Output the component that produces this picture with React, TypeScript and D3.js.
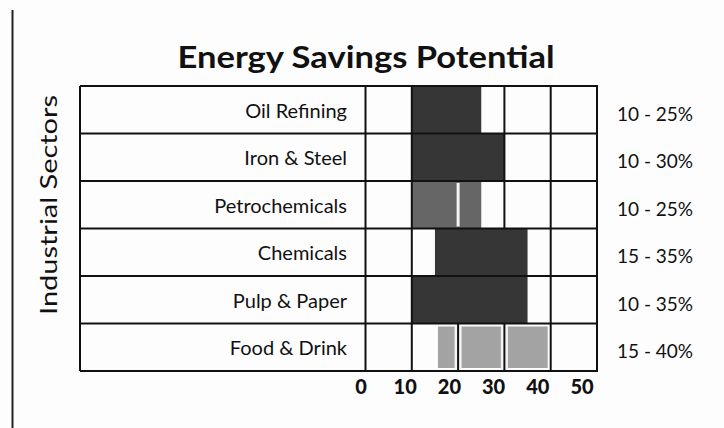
import React from "react";
import * as d3 from "d3";

const sectors = ["Oil Refining", "Iron & Steel", "Petrochemicals", "Chemicals", "Pulp & Paper", "Food & Drink"];
const lowValues = [10, 10, 10, 15, 10, 15];
const highValues = [25, 30, 25, 35, 35, 40];
const shades = ["dark", "dark", "medium", "dark", "dark", "light"];
const ticks = [0, 10, 20, 30, 40, 50];
const title = "Energy Savings Potential";
const axisTitle = "Industrial Sectors";

const W = 724;
const H = 428;
const boxLeft = 80;
const top = 86;
const bottom = 371;

const x = d3.scaleLinear().domain([0, 50]).range([365.5, 597]);
const tickX = d3.scaleLinear().domain([0, 50]).range([361, 582]);
const y = d3.scaleBand<string>().domain(sectors).range([top, bottom]).padding(0);

const fills: Record<string, string> = { dark: "#363636", medium: "#666666", light: "#a3a3a3" };

export default function App() {
  const font = "Lato, 'Open Sans', sans-serif";
  const bw = y.bandwidth();
  return (
    <svg width={W} height={H} style={{ position: "absolute", left: 0, top: 0, background: "#fff" }}>
      <rect x={0} y={0} width={W} height={H} fill="#fdfdfd" />
      {/* page border */}
      <line x1={12.5} x2={12.5} y1={10} y2={H} stroke="#222" strokeWidth={2} />
      {/* title */}
      <text x={366} y={68} textAnchor="middle" fontFamily={font} fontWeight={700} fontSize={30}
        textLength={377} lengthAdjust="spacingAndGlyphs" fill="#111">{title}</text>
      {/* axis title */}
      <text transform={`translate(57,205) rotate(-90)`} textAnchor="middle" fontFamily={font} fontSize={23}
        textLength={220} lengthAdjust="spacingAndGlyphs" fill="#111">{axisTitle}</text>
      {/* bars */}
      {sectors.map((s, i) => {
        const y0 = y(s)!;
        const x0 = x(lowValues[i]);
        const x1 = x(highValues[i]);
        const inset = shades[i] === "light" ? 3 : 0;
        const seps = ticks.filter((t) => t > lowValues[i] && t < highValues[i]);
        return (
          <g key={s}>
            <rect x={x0 + inset} y={y0 + inset} width={x1 - x0 - 2 * inset} height={bw - 2 * inset} fill={fills[shades[i]]} />
            {shades[i] !== "dark" && seps.map((t) => (
              <line key={t} x1={x(t)} x2={x(t)} y1={y0 + 2} y2={y0 + bw - 2} stroke="#f4f4f4" strokeWidth={shades[i] === "light" ? 7 : 3} />
            ))}
            {shades[i] === "light" && seps.map((t) => (
              <line key={"k" + t} x1={x(t)} x2={x(t)} y1={y0} y2={y0 + bw} stroke="#111" strokeWidth={2} />
            ))}
          </g>
        );
      })}
      {/* vertical grid lines (hidden inside bars) */}
      {sectors.map((s, i) =>
        ticks.map((t) => {
          const inside = t > lowValues[i] && t < highValues[i];
          if (inside || t === 0 || t === 50) return null;
          return <line key={s + t} x1={x(t)} x2={x(t)} y1={y(s)!} y2={y(s)! + bw} stroke="#111" strokeWidth={2} />;
        })
      )}
      {/* row lines */}
      {[...sectors.map((s) => y(s)!), bottom].map((yy, i) => (
        <line key={i} x1={boxLeft} x2={x(50) + 1} y1={yy} y2={yy} stroke="#111" strokeWidth={2.2} />
      ))}
      {/* outer verticals */}
      <line x1={boxLeft} x2={boxLeft} y1={top} y2={bottom} stroke="#111" strokeWidth={2} />
      <line x1={x(0)} x2={x(0)} y1={top} y2={bottom} stroke="#111" strokeWidth={2} />
      <line x1={x(50)} x2={x(50)} y1={top} y2={bottom} stroke="#111" strokeWidth={2} />
      {/* row labels */}
      {sectors.map((s) => (
        <text key={s} x={347} y={y(s)! + bw / 2 + 8} textAnchor="end" fontFamily={font} fontSize={20} fill="#111">{s}</text>
      ))}
      {/* value labels */}
      {sectors.map((s, i) => (
        <text key={s} x={617} y={y(s)! + bw / 2 + 11} fontFamily={font} fontSize={19} fill="#111">
          {`${lowValues[i]} - ${highValues[i]}%`}
        </text>
      ))}
      {/* tick labels */}
      {ticks.map((t) => (
        <text key={t} x={tickX(t)} y={394} textAnchor="middle" fontFamily={font} fontWeight={900} fontSize={20} fill="#111">{t}</text>
      ))}
    </svg>
  );
}
